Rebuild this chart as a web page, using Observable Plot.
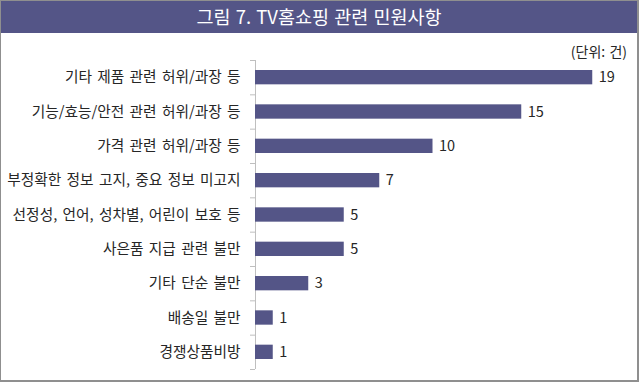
<!DOCTYPE html>
<html><head><meta charset="utf-8">
<script src="https://cdn.jsdelivr.net/npm/d3@7"></script>
<script src="https://cdn.jsdelivr.net/npm/@observablehq/plot@0.6"></script>
<style>
body{margin:0;background:#fff;}
#wrap{position:relative;width:640px;height:382px;overflow:hidden;font-family:"Noto Sans CJK KR","Noto Sans",sans-serif;background:#fff;}
#frame{position:absolute;left:0;top:0;width:639px;height:382px;box-sizing:border-box;border:1px solid #8f8f8f;border-right-width:2px;border-bottom-width:2px;pointer-events:none;}
#title{position:absolute;left:0;top:0;width:638px;height:33px;background:#545587;color:#fff;font-size:18.5px;line-height:33px;text-align:center;word-spacing:1px;}
#unit{position:absolute;right:13px;top:41px;font-size:14px;line-height:20px;color:#262626;word-spacing:1px;}
#chart{position:absolute;left:0;top:33px;}
#chart svg text{word-spacing:2px;}
</style>
</head><body>
<div id="wrap">
  <div id="title">그림 7. TV홈쇼핑 관련 민원사항</div>
  <div id="unit">(단위: 건)</div>
  <div id="chart"></div>
  <div id="frame"></div>
</div>
<script>
const categories = [
  "기타 제품 관련 허위/과장 등",
  "기능/효능/안전 관련 허위/과장 등",
  "가격 관련 허위/과장 등",
  "부정확한 정보 고지, 중요 정보 미고지",
  "선정성, 언어, 성차별, 어린이 보호 등",
  "사은품 지급 관련 불만",
  "기타 단순 불만",
  "배송일 불만",
  "경쟁상품비방"
];
const values = [19, 15, 10, 7, 5, 5, 3, 1, 1];

const data = categories.map((c, i) => ({c, v: values[i], i}));
const n = categories.length;

const plot = Plot.plot({
  width: 640,
  height: 347,
  marginLeft: 255,
  marginRight: 30,
  marginTop: 27,
  marginBottom: 11,
  x: {domain: [0, 20], axis: null},
  y: {domain: [0, n], reverse: true, axis: null},
  style: {fontFamily: '"Noto Sans CJK KR","Noto Sans",sans-serif', fontSize: "14px", color: "#262626", background: "transparent"},
  marks: [
    Plot.axisY(d3.range(n + 1), {tickSize: 5, tickFormat: () => "", stroke: "#bfbfbf", label: null}),
    Plot.axisY(d3.range(n).map(i => i + 0.5), {tickSize: 0, tickPadding: 15, tickFormat: d => categories[Math.round(d - 0.5)], fontSize: 14.7, fill: "#262626", label: null}),
    Plot.ruleX([0], {stroke: "#bfbfbf"}),
    Plot.rectX(data, {x1: 0, x2: "v", y1: "i", y2: d => d.i + 1, insetTop: 10, insetBottom: 10, fill: "#545587"}),
    Plot.text(data, {x: "v", y: d => d.i + 0.5, text: d => String(d.v), dx: 6, textAnchor: "start", fontSize: 14.5, fill: "#262626"})
  ]
});
document.getElementById("chart").appendChild(plot);
</script>
</body></html>
